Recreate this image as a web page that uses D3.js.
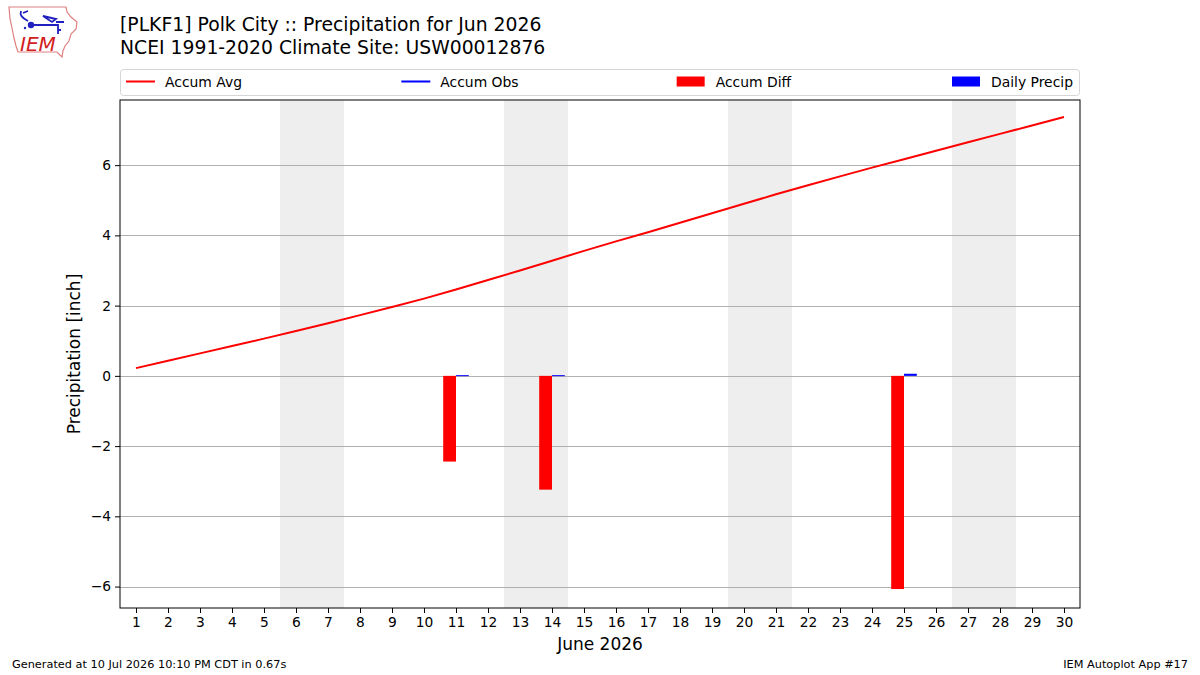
<!DOCTYPE html>
<html>
<head>
<meta charset="utf-8">
<script src="https://d3js.org/d3.v7.min.js"></script>
<style>
  body { margin: 0; background: #fff; }
  text { font-family: "DejaVu Sans", sans-serif; }
</style>
</head>
<body>
<svg id="chart" width="1200" height="675"></svg>
<script>
// days of June 2026
var days = d3.range(1, 31);
// climatology accumulated precip (inch)
var accumAvg = [0.22, 0.43, 0.64, 0.85, 1.06, 1.28, 1.50, 1.73, 1.96, 2.20,
                2.46, 2.73, 3.00, 3.28, 3.56, 3.83, 4.09, 4.36, 4.63, 4.90,
                5.17, 5.43, 5.68, 5.93, 6.17, 6.41, 6.65, 6.89, 7.13, 7.37];
// observed days only
var obsDays = [11, 14, 25];
var dailyPrecip = [0.02, 0.02, 0.06];
var accumObs = [0.02, 0.04, 0.10];
var accumDiff = [-2.44, -3.24, -6.07];
var weekends = [[6, 7], [13, 14], [20, 21], [27, 28]];
var yTicks = [-6, -4, -2, 0, 2, 4, 6];
var legendLabels = ["Accum Avg", "Accum Obs", "Accum Diff", "Daily Precip"];

var svg = d3.select("#chart"),
    pL = 120, pR = 1080, pT = 100, pB = 608;

var x = d3.scaleLinear().domain([0.5, 30.5]).range([pL, pR]);
var y = d3.scaleLinear().domain([-6.61, 7.855]).range([pB, pT]);

// weekend shading
svg.append("g").selectAll("rect")
    .data(weekends)
    .enter().append("rect")
      .attr("x", function(d) { return x(d[0] - 0.5); })
      .attr("width", function(d) { return x(d[1] + 0.5) - x(d[0] - 0.5); })
      .attr("y", pT)
      .attr("height", pB - pT)
      .attr("fill", "#eeeeee");

// grid
svg.append("g").selectAll("line")
    .data(yTicks)
    .enter().append("line")
      .attr("x1", pL).attr("x2", pR)
      .attr("y1", function(d) { return Math.round(y(d)) + 0.5; })
      .attr("y2", function(d) { return Math.round(y(d)) + 0.5; })
      .attr("stroke", "#b0b0b0")
      .attr("stroke-width", 1);

// accum diff bars (left of day), daily precip bars (right of day)
svg.append("g").selectAll("rect")
    .data(obsDays)
    .enter().append("rect")
      .attr("x", function(d) { return x(d - 0.4); })
      .attr("width", function(d) { return x(d) - x(d - 0.4); })
      .attr("y", function(d, i) { return y(Math.max(0, accumDiff[i])); })
      .attr("height", function(d, i) { return Math.abs(y(accumDiff[i]) - y(0)); })
      .attr("fill", "#ff0000");

svg.append("g").selectAll("rect")
    .data(obsDays)
    .enter().append("rect")
      .attr("x", function(d) { return x(d); })
      .attr("width", function(d) { return x(d + 0.4) - x(d); })
      .attr("y", function(d, i) { return y(dailyPrecip[i]); })
      .attr("height", function(d, i) { return Math.max(1, y(0) - y(dailyPrecip[i])); })
      .attr("fill", "#0000ff");

// accum obs line (only isolated points here, so nothing visible)
var obsSeries = days.map(function(d) {
  var i = obsDays.indexOf(d);
  return i < 0 ? null : accumObs[i];
});
svg.append("path")
    .datum(days)
    .attr("fill", "none")
    .attr("stroke", "#0000ff")
    .attr("stroke-width", 2)
    .attr("d", d3.line()
      .defined(function(d, i) { return obsSeries[i] !== null && (obsSeries[i - 1] != null || obsSeries[i + 1] != null); })
      .x(function(d) { return x(d); })
      .y(function(d, i) { return y(obsSeries[i] || 0); }));

// accum avg line
svg.append("path")
    .datum(days)
    .attr("fill", "none")
    .attr("stroke", "#ff0000")
    .attr("stroke-width", 2)
    .attr("d", d3.line()
      .x(function(d) { return x(d); })
      .y(function(d, i) { return y(accumAvg[i]); }));

// frame
svg.append("rect")
    .attr("x", pL).attr("y", pT)
    .attr("width", pR - pL).attr("height", pB - pT)
    .attr("fill", "none").attr("stroke", "#000").attr("stroke-width", 1);

// axes
var xAxis = svg.append("g")
    .attr("transform", "translate(0," + pB + ")")
    .call(d3.axisBottom(x).tickValues(days).tickSize(5).tickPadding(4).tickFormat(d3.format("d")));
var yAxis = svg.append("g")
    .attr("transform", "translate(" + pL + ",0)")
    .call(d3.axisLeft(y).tickValues(yTicks).tickSize(5).tickPadding(4)
      .tickFormat(function(d) { return d < 0 ? "\u2212" + Math.abs(d) : d; }));
[xAxis, yAxis].forEach(function(a) {
  a.select(".domain").remove();
  a.selectAll("text").attr("font-size", 13.8).attr("fill", "#000")
    .attr("font-family", "DejaVu Sans, sans-serif");
  a.selectAll("line").attr("stroke", "#000");
});

svg.append("text")
    .attr("x", (pL + pR) / 2).attr("y", 650)
    .attr("text-anchor", "middle").attr("font-size", 17)
    .text("June 2026");
svg.append("text")
    .attr("transform", "translate(80," + (pT + pB) / 2 + ") rotate(-90)")
    .attr("text-anchor", "middle").attr("font-size", 17)
    .text("Precipitation [inch]");

// titles
svg.append("text").attr("x", 120).attr("y", 31).attr("font-size", 18.8)
    .text("[PLKF1] Polk City :: Precipitation for Jun 2026");
svg.append("text").attr("x", 120).attr("y", 54).attr("font-size", 18.8)
    .text("NCEI 1991-2020 Climate Site: USW00012876");

// legend
var legend = svg.append("g");
legend.append("rect")
    .attr("x", 120.5).attr("y", 69.5).attr("width", 959).attr("height", 26)
    .attr("rx", 3).attr("fill", "#fff").attr("stroke", "#d6d6d6");
var colX = d3.scaleLinear().domain([0, 3]).range([126, 952]);
var colColor = ["#ff0000", "#0000ff", "#ff0000", "#0000ff"];
legendLabels.forEach(function(lab, i) {
  var cx = colX(i);
  if (i < 2) {
    legend.append("line")
      .attr("x1", cx).attr("x2", cx + 29).attr("y1", 81.5).attr("y2", 81.5)
      .attr("stroke", colColor[i]).attr("stroke-width", 2);
  } else {
    legend.append("rect")
      .attr("x", cx).attr("y", 76.5).attr("width", 28).attr("height", 10)
      .attr("fill", colColor[i]);
  }
  legend.append("text")
    .attr("x", cx + 39).attr("y", 86.5).attr("font-size", 13.9)
    .text(lab);
});

// logo
var logo = svg.append("g");
logo.append("path")
    .attr("d", "M9,7 L66,7 L67,12 L71,17 L77,22 L76,29 L71,34 L69,41 L65,46 L63,51 L62,57 L57,52 L18,52 L16,46 L14,38 L12,28 L10,19 Z")
    .attr("fill", "none").attr("stroke", "#e08080").attr("stroke-width", 1.2);
logo.append("path")
    .attr("d", "M21,11 C19,16 24,19 28,21 M23,13 L28,11 M30,25 L58,25 L58,34 M58,30 L61,30 M43,16 L56,19 L52,22 Z M56,22 L64,22")
    .attr("fill", "none").attr("stroke", "#2020c0").attr("stroke-width", 1.8);
logo.append("circle").attr("cx", 31).attr("cy", 25).attr("r", 3.2).attr("fill", "#2020c0");
logo.append("circle").attr("cx", 25).attr("cy", 28).attr("r", 1.2).attr("fill", "#2020c0");
logo.append("text").attr("x", 20).attr("y", 51)
    .attr("font-family", "Liberation Serif, serif").attr("font-style", "italic")
    .attr("font-size", 20).attr("fill", "#d02020").text("IEM");

// footer
svg.append("text").attr("x", 12).attr("y", 668).attr("font-size", 11.3)
    .text("Generated at 10 Jul 2026 10:10 PM CDT in 0.67s");
svg.append("text").attr("x", 1188).attr("y", 668).attr("font-size", 11.3)
    .attr("text-anchor", "end").text("IEM Autoplot App #17");
</script>
</body>
</html>
